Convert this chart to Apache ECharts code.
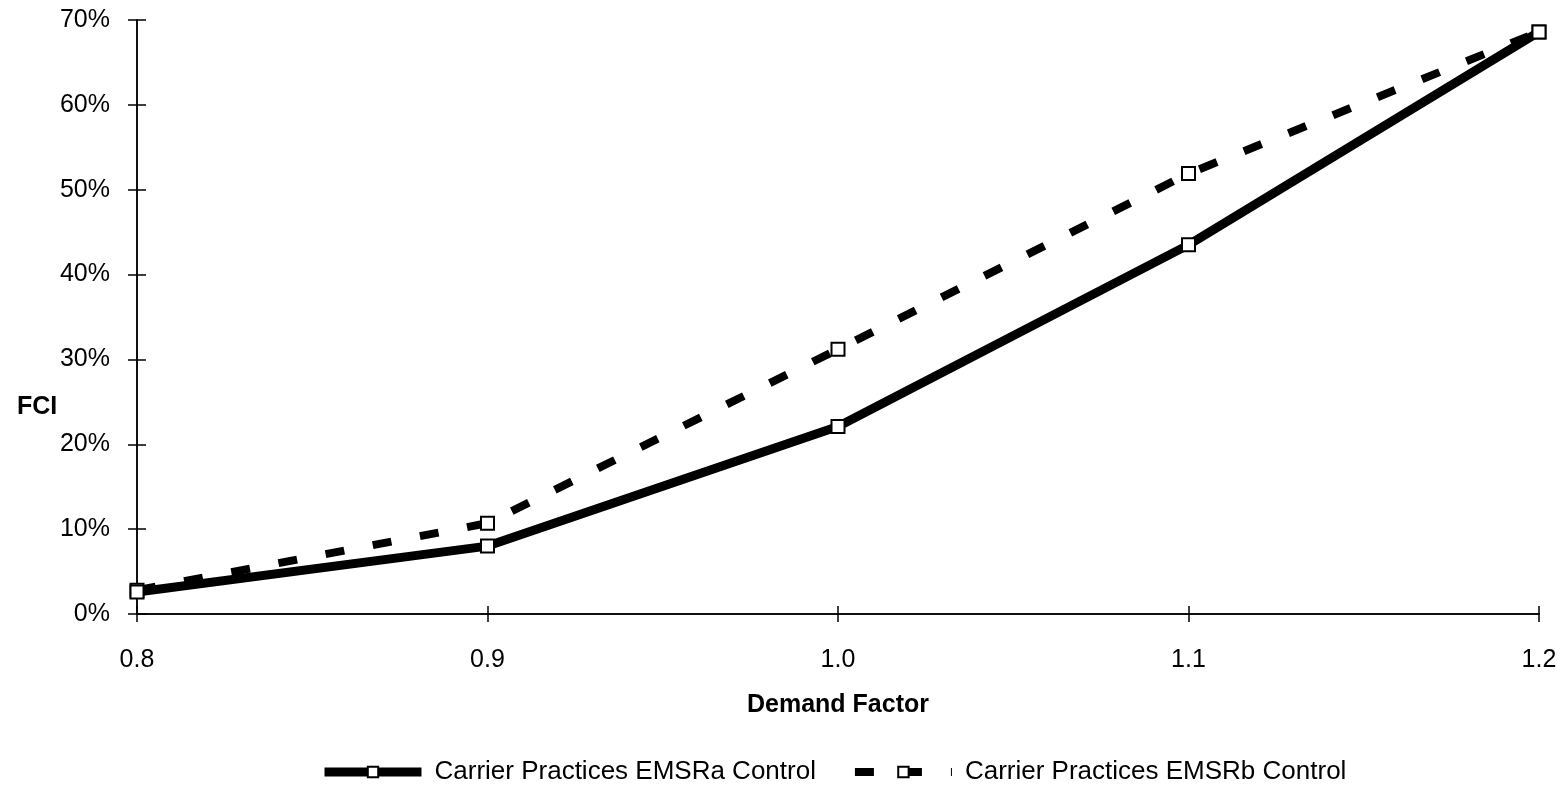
<!DOCTYPE html>
<html>
<head>
<meta charset="utf-8">
<script src="https://cdn.jsdelivr.net/npm/echarts@6/dist/echarts.min.js"></script>
<style>
  html, body { margin: 0; padding: 0; background: #fff; }
  #chart { width: 1566px; height: 789px; }
</style>
</head>
<body>
<div id="chart"></div>
<script>
// demand factor categories
const demandFactors = ['0.8', '0.9', '1.0', '1.1', '1.2'];
// FCI values in percent
const emsraValues = [2.6, 8.0, 22.1, 43.5, 68.6];
const emsrbValues = [2.8, 10.7, 31.2, 51.9, 68.6];
const yTicks = [0, 10, 20, 30, 40, 50, 60, 70];

const font = '"Liberation Sans", Arial, sans-serif';
const chart = echarts.init(document.getElementById('chart'));

const baseX = {
  type: 'category',
  data: demandFactors,
  boundaryGap: false,
  axisLine: { lineStyle: { color: '#000', width: 1.5 } },
  splitLine: { show: false }
};
const baseY = {
  type: 'value',
  min: yTicks[0],
  max: yTicks[yTicks.length - 1],
  interval: 10,
  axisLine: { show: true, lineStyle: { color: '#000', width: 1.5 } },
  splitLine: { show: false }
};

chart.setOption({
  animation: false,
  grid: { left: 137, right: 27, top: 20, bottom: 175 },
  graphic: [{
    type: 'text',
    left: 17,
    top: 395,
    style: { text: 'FCI', fontFamily: font, fontSize: 25, fontWeight: 'bold', fill: '#000' }
  }],
  legend: {
    top: 759,
    left: 320,
    padding: 0,
    itemWidth: 97,
    itemHeight: 13,
    itemGap: 35,
    lineStyle: { width: 'inherit' },
    textStyle: { fontFamily: font, fontSize: 26, color: '#000', padding: [0, 0, 0, 8] },
    data: ['Carrier Practices EMSRa Control', 'Carrier Practices EMSRb Control']
  },
  xAxis: [
    Object.assign({}, baseX, {
      name: 'Demand Factor',
      nameLocation: 'middle',
      nameGap: 79,
      nameTextStyle: { fontFamily: font, fontSize: 25, fontWeight: 'bold', color: '#000' },
      axisTick: { show: true, length: 8, lineStyle: { color: '#000', width: 1.5 } },
      axisLabel: { fontFamily: font, fontSize: 25, color: '#000', margin: 34 }
    }),
    Object.assign({}, baseX, {
      position: 'bottom',
      axisTick: { show: true, inside: true, length: 8, lineStyle: { color: '#000', width: 1.5 } },
      axisLabel: { show: false }
    })
  ],
  yAxis: [
    Object.assign({}, baseY, {
      axisTick: { show: true, length: 9, lineStyle: { color: '#000', width: 1.5 } },
      axisLabel: { fontFamily: font, fontSize: 25, color: '#000', margin: 27, formatter: '{value}%' }
    }),
    Object.assign({}, baseY, {
      position: 'left',
      axisTick: { show: true, inside: true, length: 9, lineStyle: { color: '#000', width: 1.5 } },
      axisLabel: { show: false }
    })
  ],
  series: [
    {
      name: 'Carrier Practices EMSRb Control',
      type: 'line',
      data: emsrbValues,
      z: 2,
      symbol: 'rect',
      symbolSize: 13,
      itemStyle: { color: '#fff', borderColor: '#000', borderWidth: 2 },
      lineStyle: { color: '#000', width: 8, type: [19, 29] }
    },
    {
      name: 'Carrier Practices EMSRa Control',
      type: 'line',
      data: emsraValues,
      z: 3,
      symbol: 'rect',
      symbolSize: 13,
      itemStyle: { color: '#fff', borderColor: '#000', borderWidth: 2 },
      lineStyle: { color: '#000', width: 9 }
    }
  ]
});
</script>
</body>
</html>
